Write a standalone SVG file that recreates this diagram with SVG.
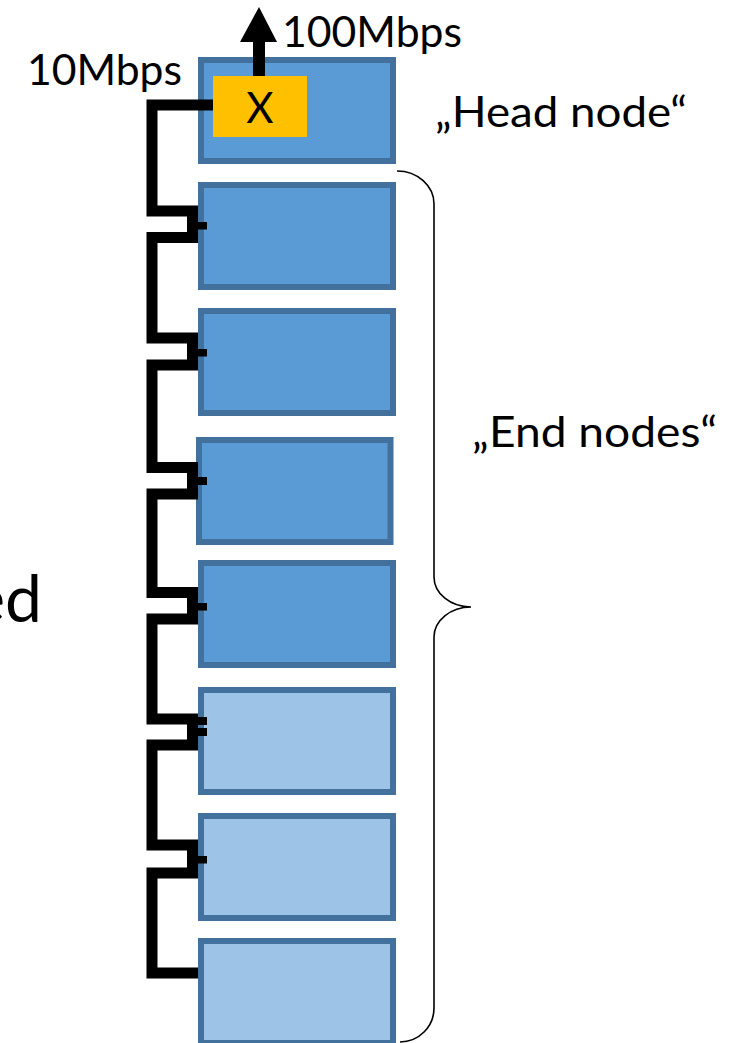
<svg xmlns="http://www.w3.org/2000/svg" width="743" height="1043" viewBox="0 0 743 1043">
  <style>
    .node { stroke: #41719C; stroke-width: 6; }
    .dark { fill: #5B9BD5; }
    .light { fill: #9DC3E6; }
    .switch { fill: #FFC000; }
    .lbl { font-family: Lato, "Liberation Sans", sans-serif; font-size: 42px; fill: #000; }
    .wire { fill: none; stroke: #000; stroke-width: 11; stroke-linejoin: miter; stroke-linecap: butt; }
    .stub { fill: #000; }
    .brace { fill: none; stroke: #000; stroke-width: 1.6; }
  </style>

  <rect width="743" height="1043" fill="#fff"/>

  <!-- tail of the slide title, running in from the left edge -->
  <text class="lbl" x="42" y="622" text-anchor="end" style="font-size:66px">ed</text>

  <!-- head node with its uplink switch -->
  <g id="head-node">
    <rect class="node dark" x="201" y="60" width="192" height="101"/>
    <rect class="switch" x="213" y="76" width="94" height="61"/>
    <text class="lbl" x="260" y="123" text-anchor="middle">X</text>
  </g>

  <!-- end nodes -->
  <g id="end-node-1"><rect class="node dark" x="201" y="185" width="192" height="102"/></g>
  <g id="end-node-2"><rect class="node dark" x="201" y="311" width="192" height="102"/></g>
  <g id="end-node-3"><rect class="node dark" x="199" y="440" width="191.5" height="102"/></g>
  <g id="end-node-4"><rect class="node dark" x="201" y="563" width="192" height="102"/></g>
  <g id="end-node-5"><rect class="node light" x="201" y="690" width="192" height="102"/></g>
  <g id="end-node-6"><rect class="node light" x="201" y="816" width="192" height="102"/></g>
  <g id="end-node-7"><rect class="node light" x="201" y="941" width="192" height="102"/></g>

  <!-- daisy-chained 10Mbps wiring and 100Mbps uplink -->
  <g id="connectors">
    <path class="wire" d="M213,105 H152 V211 H192.5 V237.5 H152 V338 H192.5 V365 H152 V467.5 H192.5 V494 H152 V592.5 H192.5 V619 H152 V719 H192.5 V745 H152 V845 H192.5 V873 H152 V973 H198"/>
    <rect class="stub" x="198" y="222" width="9" height="7.5"/>
    <rect class="stub" x="198" y="349" width="9" height="7.5"/>
    <rect class="stub" x="198" y="477" width="9" height="8"/>
    <rect class="stub" x="198" y="603" width="9" height="7.5"/>
    <rect class="stub" x="198" y="717" width="9" height="8"/>
    <rect class="stub" x="198" y="728" width="9" height="8"/>
    <rect class="stub" x="198" y="856" width="9" height="7.5"/>
    <rect class="stub" x="253" y="40" width="12" height="36"/>
    <polygon class="stub" points="259,7 277,42 240,42"/>
  </g>

  <!-- brace grouping the end nodes -->
  <path class="brace" d="M397,171 A37,33 0 0 1 434,204 V577 A37,30 0 0 0 471,607 A37,30 0 0 0 434,637 V1008 A34,34 0 0 1 400,1042"/>

  <g id="labels">
    <text class="lbl" x="27" y="85" textLength="155" lengthAdjust="spacingAndGlyphs">10Mbps</text>
    <text class="lbl" x="282" y="47" textLength="180" lengthAdjust="spacingAndGlyphs">100Mbps</text>
    <text class="lbl" x="435" y="127" textLength="252" lengthAdjust="spacingAndGlyphs">„Head node“</text>
    <text class="lbl" x="472" y="447" textLength="245" lengthAdjust="spacingAndGlyphs">„End nodes“</text>
  </g>
</svg>
